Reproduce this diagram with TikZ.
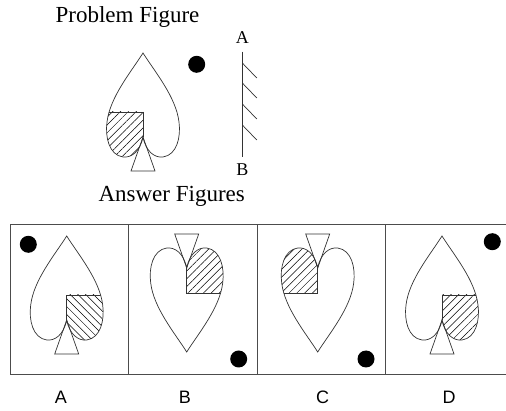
\documentclass[tikz,border=0pt]{standalone}
\usepackage{fontspec}
\setmainfont{Liberation Serif}
\newfontfamily\answerfont{Liberation Sans}
\usepackage{tikz}
\usepackage{xcolor}
\usetikzlibrary{patterns.meta}

\tikzset{
  spadeline/.style={line width=0.7pt, draw=black!80},
  boxline/.style={line width=0.9pt, draw=black!70},
  blackdot/.style={circle, fill=black, minimum size=17pt, inner sep=0pt},
  toplabel/.style={font=\fontsize{23}{25}\selectfont},
  mirrorlabel/.style={font=\fontsize{18}{20}\selectfont},
  answerlabel/.style={font=\answerfont\fontsize{18}{20}\selectfont}
}

% spade outline, junction of the lobes at the origin, tip upwards
\def\spadepath{(0,0) .. controls (-3,-15) and (-12,-21) .. (-20,-20)
  .. controls (-34,-18) and (-38,0) .. (-36,15)
  .. controls (-33,40) and (-12,65) .. (0,84)
  .. controls (12,65) and (33,40) .. (36,15)
  .. controls (38,0) and (34,-18) .. (20,-20)
  .. controls (12,-21) and (3,-15) .. (0,0) -- cycle}

% #1 junction, #2 xscale, #3 yscale, #4 hatch angle
\newcommand{\spadefig}[4]{%
  \begin{scope}[shift={#1}, xscale=#2, yscale=#3]
    \begin{scope}
      \clip \spadepath;
      \fill[pattern={Lines[angle=#4, distance=5.5pt, line width=0.5pt]}] (-40,-25) rectangle (0,25);
      \draw[spadeline] (-40,25) -- (0,25) -- (0,0);
    \end{scope}
    \draw[spadeline] \spadepath;
    \draw[spadeline] (0,0) -- (-12,-34) -- (12,-34) -- cycle;
  \end{scope}}

\begin{document}
\begin{tikzpicture}[x=1pt, y=-1pt]
  \useasboundingbox (0,0) rectangle (506,411);

  % Problem figure
  \node[toplabel] (title) at (127.5,17) {Problem Figure};
  \spadefig{(143,137)}{1}{-1}{45}
  \node[blackdot] (pdot) at (196.7,64.3) {};

  % Mirror
  \coordinate (mtop) at (242.3,51.7);
  \coordinate (mbot) at (242.3,156.7);
  \draw[spadeline] (mtop) -- (mbot);
  \foreach \y in {63,83,104,125}
    \draw[spadeline] (242.3,\y) -- ++(14.5,15);
  \node[mirrorlabel] (la) at (242.3,38) {A};
  \node[mirrorlabel] (lb) at (242.3,170) {B};

  \node[toplabel] (answers) at (171.7,196.7) {Answer Figures};

  % Answer boxes
  \draw[boxline] (506,224.5) -- (10,224.5) -- (10,374.5) -- (506,374.5);
  \draw[boxline] (128.3,224.5) -- (128.3,374.5);
  \draw[boxline] (257.3,224.5) -- (257.3,374.5);
  \draw[boxline] (385.7,224.5) -- (385.7,374.5);

  % A
  \spadefig{(66.7,320)}{-1}{-1}{-45}
  \node[blackdot] (adot) at (28.3,244.3) {};
  \node[answerlabel] (ansa) at (61,397.7) {A};
  % B
  \spadefig{(186.7,268)}{-1}{1}{45}
  \node[blackdot] (bdot) at (238.7,359) {};
  \node[answerlabel] (ansb) at (185,397.7) {B};
  % C
  \spadefig{(317.7,268)}{1}{1}{45}
  \node[blackdot] (cdot) at (366,359) {};
  \node[answerlabel] (ansc) at (322.7,397.7) {C};
  % D
  \spadefig{(442,320)}{-1}{-1}{45}
  \node[blackdot] (ddot) at (492.3,241.7) {};
  \node[answerlabel] (ansd) at (449,397.7) {D};
\end{tikzpicture}
\end{document}
